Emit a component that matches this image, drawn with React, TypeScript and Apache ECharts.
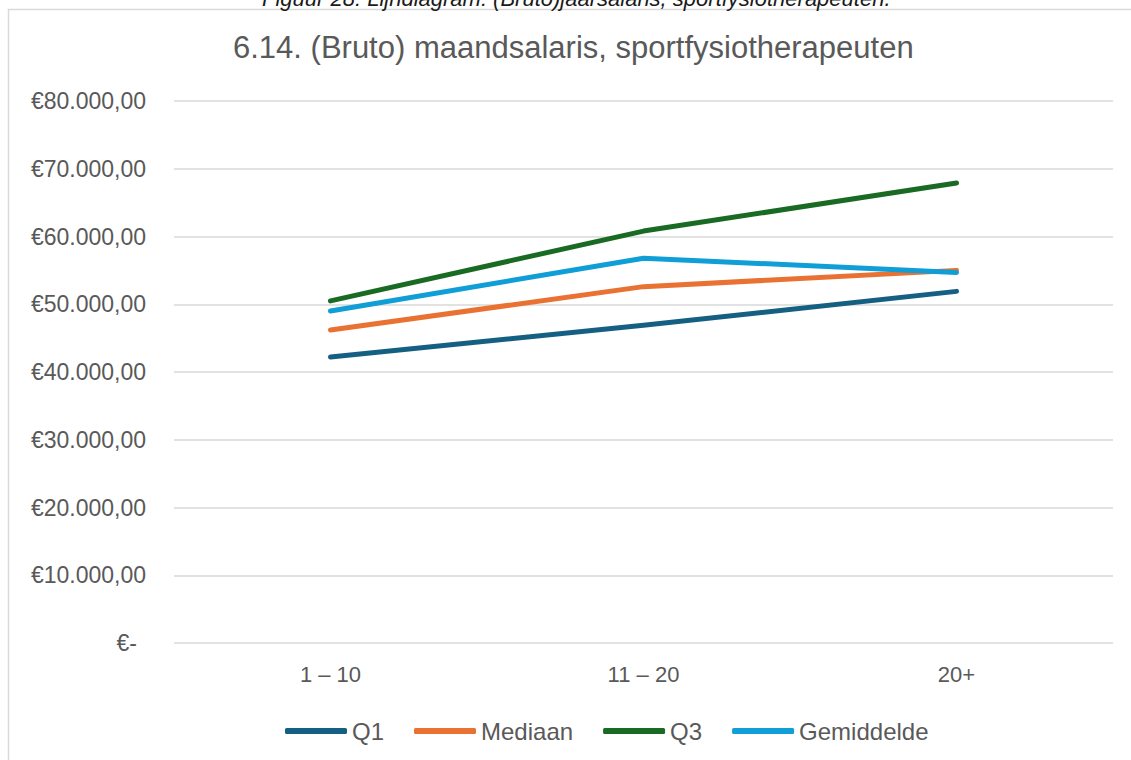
import React, { useEffect, useRef } from "react";
import * as echarts from "echarts";

const categories = ["1 – 10", "11 – 20", "20+"];
const q1 = [42200, 46900, 51900];
const mediaan = [46200, 52600, 55000];
const q3 = [50500, 60800, 67900];
const gemiddelde = [49000, 56800, 54700];
const seriesNames = ["Q1", "Mediaan", "Q3", "Gemiddelde"];
const colors = ["#156082", "#E97132", "#196B24", "#0F9ED5"];
const yTicks = { min: 0, max: 80000, interval: 10000 };

const titleText = "6.14. (Bruto) maandsalaris, sportfysiotherapeuten";
const captionText = "Figuur 28: Lijndiagram: (Bruto)jaarsalaris, sportfysiotherapeuten.";

const textColor = "#595959";
const fontFam = "'Liberation Sans', Arial, sans-serif";

function fmtEuro(v: number): string {
  if (v === 0) return "{z|€-}";
  const s = Math.round(v).toString().replace(/\B(?=(\d{3})+(?!\d))/g, ".");
  return "€" + s + ",00";
}

export default function App() {
  const ref = useRef<HTMLDivElement>(null);
  useEffect(() => {
    if (!ref.current) return;
    const chart = echarts.init(ref.current, null, { renderer: "svg" });
    const data = [q1, mediaan, q3, gemiddelde];
    chart.setOption({
      animation: false,
      backgroundColor: "#ffffff",
      title: {
        text: titleText,
        left: 233,
        top: 32,
        padding: 0,
        textStyle: { color: textColor, fontSize: 31, fontWeight: "normal", fontFamily: fontFam },
      },
      graphic: [
        {
          type: "rect",
          shape: { x: 8.5, y: 9.5, width: 1300, height: 900 },
          style: { fill: "none", stroke: "#d9d9d9", lineWidth: 1.5 },
          silent: true,
          z: -1,
        },
        {
          type: "text",
          x: 262,
          y: 9,
          style: {
            text: captionText,
            fill: "#1a1a1a",
            font: "italic 22px 'Liberation Sans', Arial, sans-serif",
            verticalAlign: "bottom",
          },
        },
      ],
      legend: {
        data: seriesNames,
        left: 285,
        top: 719,
        icon: "roundRect",
        itemWidth: 62,
        itemHeight: 6,
        itemGap: 30,
        padding: 0,
        textStyle: { color: textColor, fontSize: 24, fontFamily: fontFam },
      },
      grid: { left: 174, right: 18, top: 101, bottom: 117, containLabel: false },
      xAxis: {
        type: "category",
        data: categories,
        boundaryGap: true,
        axisLine: { show: false },
        axisTick: { show: false },
        axisLabel: { color: textColor, fontSize: 22, fontFamily: fontFam, margin: 20 },
      },
      yAxis: {
        type: "value",
        min: yTicks.min,
        max: yTicks.max,
        interval: yTicks.interval,
        axisLine: { show: false },
        axisTick: { show: false },
        splitLine: { lineStyle: { color: "#d9d9d9", width: 1.5 } },
        axisLabel: {
          color: textColor,
          fontSize: 23,
          fontFamily: fontFam,
          margin: 28,
          formatter: (v: number) => fmtEuro(v),
          rich: { z: { color: textColor, fontSize: 23, fontFamily: fontFam, padding: [0, 9, 0, 0] } },
        },
      },
      series: seriesNames.map((name, i) => ({
        name,
        type: "line",
        data: data[i],
        showSymbol: false,
        symbol: "none",
        color: colors[i],
        lineStyle: { color: colors[i], width: 5, cap: "round", join: "round" },
        z: 2,
      })),
    });
    return () => chart.dispose();
  }, []);
  return (
    <div
      ref={ref}
      style={{ position: "fixed", left: 0, top: 0, width: 1131, height: 760 }}
    />
  );
}
